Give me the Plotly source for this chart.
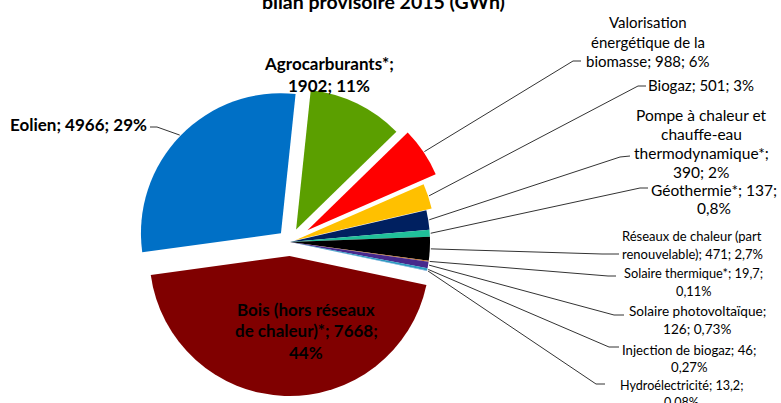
import math
import plotly.graph_objects as go

# --- data -------------------------------------------------------------
names = [
    "Agrocarburants*",
    "Valorisation énergétique de la biomasse",
    "Biogaz",
    "Pompe à chaleur et chauffe-eau thermodynamique*",
    "Géothermie*",
    "Réseaux de chaleur (part renouvelable)",
    "Solaire thermique*",
    "Solaire photovoltaïque",
    "Injection de biogaz",
    "Hydroélectricité",
    "Bois (hors réseaux de chaleur)*",
    "Eolien",
]
values_gwh = [1902, 988, 501, 390, 137, 471, 19.7, 126, 46, 13.2, 7668, 4966]
value_text = ["1902", "988", "501", "390", "137", "471", "19,7", "126", "46", "13,2", "7668", "4966"]
percent_text = ["11%", "6%", "3%", "2%", "0,8%", "2,7%", "0,11%", "0,73%", "0,27%", "0,08%", "44%", "29%"]
title_text = "bilan provisoire 2015 (GWh)"

# --- styling ----------------------------------------------------------
colors = ["#5B9F00", "#FF0000", "#FFC000", "#002060", "#20C09A", "#000000",
          "#C0702A", "#46288C", "#2C9BC0", "#5B9BD5", "#800000", "#0070C6"]
pulls = [0.10, 0.15, 0.04, 0, 0, 0, 0, 0, 0, 0, 0.10, 0.09]
rotation = 6

W, H = 781, 403
CX, CY = 290, 242                # pie centre in pixels
BOX = 2 * (H - CY)               # square box holding the pie
R = BOX / (2 * (1 + max(pulls))) # radius plotly will use


def px(x, y):
    return x / W, 1 - y / H


fig = go.Figure(go.Pie(
    labels=names,
    values=values_gwh,
    sort=False,
    direction="clockwise",
    rotation=rotation,
    pull=pulls,
    marker=dict(colors=colors, line=dict(width=0)),
    textinfo="none",
    hoverinfo="label+value+percent",
    showlegend=False,
    domain=dict(x=[(CX - BOX / 2) / W, (CX + BOX / 2) / W], y=[0, BOX / H]),
))

# label layout: (word counts per line, centre x, first line y, line step, size, bold, attach, bend)
label_layout = [
    ([1, 2], 329, 64, 21, 17, True, None, None),
    ([1, 3, 3], 648, 22, 19.5, 15, False, (581, 61), (573, 61)),
    ([3], 701, 85, 19, 15, False, (646, 86), (638, 86)),
    ([4, 1, 1, 2], 701, 115, 19, 15.5, False, (630, 156), (620, 157)),
    ([2, 1], 714, 190, 18, 15.5, False, (648, 188), (640, 188)),
    ([4, 3], 692, 236, 17.5, 13, False, (619, 254), (602, 254)),
    ([3, 1], 693, 273, 18, 12.8, False, (616, 276), (608, 276)),
    ([2, 2], 697, 311, 18, 13.6, False, (624, 315), (614, 315)),
    ([4, 1], 689, 350, 17, 13.2, False, (619, 347), (609, 347)),
    ([2, 1], 681, 385, 17, 12.6, False, (605, 384), (596, 384)),
    ([3, 3, 1], 306, 309, 21.5, 17, True, None, None),
    ([3], 78, 124, 19, 17, True, (150, 127), (157, 127)),
]

total = sum(values_gwh)
annotations = []
shapes = []
cum = 0.0
for i, v in enumerate(values_gwh):
    mid = math.radians(rotation + 360 * (cum + v / 2) / total)
    cum += v
    words = f"{names[i]}; {value_text[i]}; {percent_text[i]}".split(" ")
    counts, lx, ly, step, size, bold, attach, bend = label_layout[i]
    k = 0
    for j, n in enumerate(counts):
        line = " ".join(words[k:k + n])
        k += n
        if bold:
            line = f"<b>{line}</b>"
        xp, yp = px(lx, ly + j * step)
        annotations.append(dict(
            x=xp, y=yp, xref="paper", yref="paper", text=line, showarrow=False,
            xanchor="center", yanchor="middle",
            font=dict(family="Lato", size=size, color="#000000"),
        ))
    if attach is not None:
        r_edge = R * (1 + pulls[i]) + 1
        ex, ey = CX + r_edge * math.sin(mid), CY - r_edge * math.cos(mid)
        p0, p1, p2 = px(ex, ey), px(*bend), px(*attach)
        shapes.append(dict(
            type="path", xref="paper", yref="paper",
            path=f"M {p0[0]} {p0[1]} L {p1[0]} {p1[1]} L {p2[0]} {p2[1]}",
            line=dict(color="#333333", width=1),
        ))

# title partly above the page edge
annotations.append(dict(
    x=383 / W, y=1, xref="paper", yref="paper", text=f"<b>{title_text}</b>",
    showarrow=False, xanchor="center", yanchor="middle", yshift=-1,
    font=dict(family="Lato", size=19.5, color="#000000"),
))

fig.update_layout(
    width=W, height=H,
    margin=dict(l=0, r=0, t=0, b=0),
    paper_bgcolor="white", plot_bgcolor="white",
    annotations=annotations, shapes=shapes,
)

fig.write_html("out.html")
